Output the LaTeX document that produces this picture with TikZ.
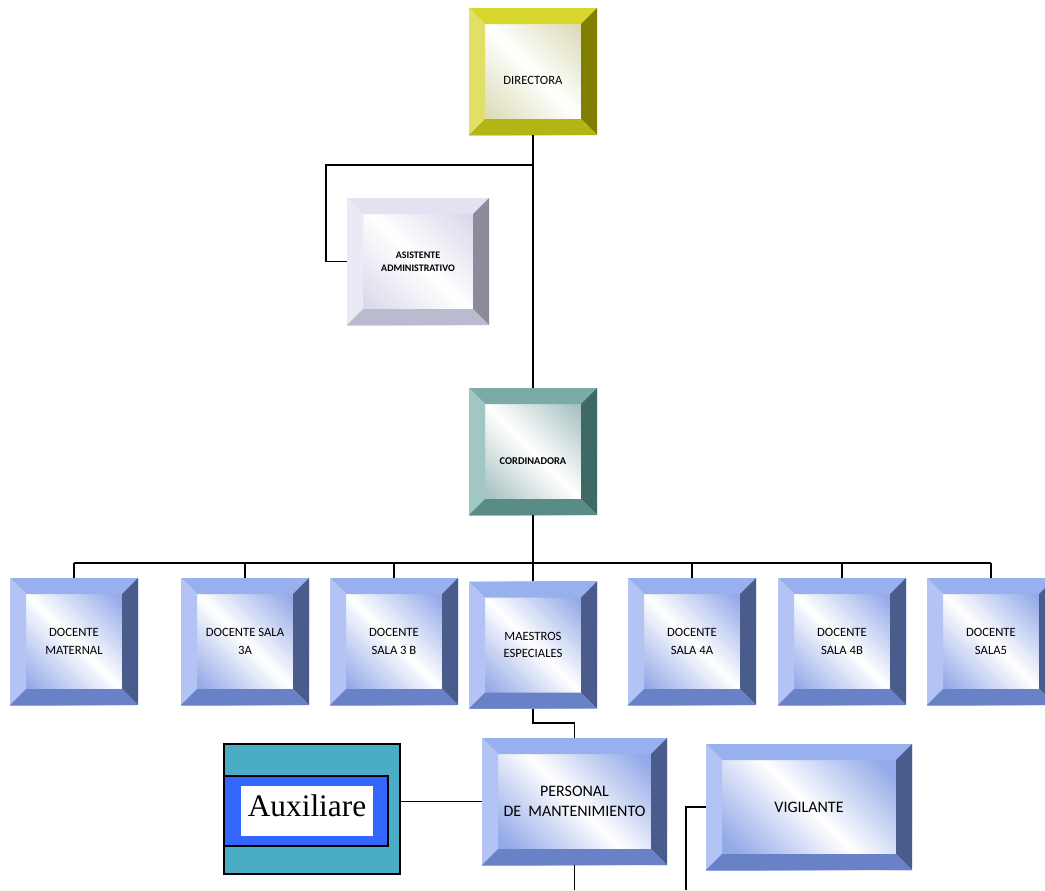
\documentclass[tikz,border=0pt]{standalone}
\usepackage{fontspec}
\setmainfont{Carlito}
\newfontfamily\auxfont{Liberation Serif}
\usetikzlibrary{calc}

\definecolor{ylT}{HTML}{D6D62C}\definecolor{ylL}{HTML}{E0E068}
\definecolor{ylR}{HTML}{807F00}\definecolor{ylB}{HTML}{B4B414}\definecolor{ylF}{HTML}{DCDCB8}
\definecolor{lvT}{HTML}{E2E2F2}\definecolor{lvL}{HTML}{EAEAF6}
\definecolor{lvR}{HTML}{8B8B9B}\definecolor{lvB}{HTML}{BBBBCF}\definecolor{lvF}{HTML}{DADAEC}
\definecolor{tlT}{HTML}{7BABA7}\definecolor{tlL}{HTML}{A0C7C3}
\definecolor{tlR}{HTML}{3F6965}\definecolor{tlB}{HTML}{5A8C87}\definecolor{tlF}{HTML}{A8C2C2}
\definecolor{blT}{HTML}{98B0EE}\definecolor{blL}{HTML}{B3C4F4}
\definecolor{blR}{HTML}{4A5C8C}\definecolor{blB}{HTML}{6881C7}\definecolor{blF}{HTML}{94AAE8}
\definecolor{auxteal}{HTML}{4BACC6}\definecolor{auxblue}{HTML}{3366FF}

\tikzset{
  bevel/.style n args={5}{inner sep=0pt, align=center, minimum width=96pt, minimum height=95.25pt,
    left color=#5, right color=#5, middle color=white, shading angle=-45,
    path picture={
      \path (path picture bounding box.north west) coordinate (p1)
            (path picture bounding box.north east) coordinate (p2)
            (path picture bounding box.south east) coordinate (p3)
            (path picture bounding box.south west) coordinate (p4);
      \fill[#1] (p1) -- (p2) -- ++(-12pt,-12pt) -- ($(p1)+(12pt,-12pt)$) -- cycle;
      \fill[#2] (p1) -- (p4) -- ++(12pt,12pt) -- ($(p1)+(12pt,-12pt)$) -- cycle;
      \fill[#3] (p2) -- (p3) -- ++(-12pt,12pt) -- ($(p2)+(-12pt,-12pt)$) -- cycle;
      \fill[#4] (p4) -- (p3) -- ++(-12pt,12pt) -- ($(p4)+(12pt,12pt)$) -- cycle;
    }},
  yellowbox/.style={bevel={ylT}{ylL}{ylR}{ylB}{ylF}},
  lilacbox/.style={bevel={lvT}{lvL}{lvR}{lvB}{lvF}},
  tealbox/.style={bevel={tlT}{tlL}{tlR}{tlB}{tlF}},
  bluebox/.style={bevel={blT}{blL}{blR}{blB}{blF}, font=\fontsize{9.5}{13}\selectfont},
  link/.style={line width=1.4pt},
}

\begin{document}
\begin{tikzpicture}[x=0.75pt, y=-0.75pt]
\useasboundingbox (0,0) rectangle (1045,890);
\node[yellowbox, text height=20pt, font=\fontsize{9.5}{12}\selectfont] (dir) at (533,71.5) {DIRECTORA};
\node[lilacbox, minimum width=106.5pt, font=\fontsize{7.5}{9.5}\selectfont\bfseries] (asist) at (418,261.5)
  {ASISTENTE\\ADMINISTRATIVO};
\node[tealbox, text height=20pt, font=\fontsize{7.8}{10}\selectfont\bfseries] (cord) at (533,451.5) {CORDINADORA};
\foreach \n/\x/\y/\txt in {m1/74/641.5/{DOCENTE\\MATERNAL}, m2/245/641.5/{DOCENTE SALA\\3A},
    m3/394/641.5/{DOCENTE\\SALA 3 B}, m4/533/645/{MAESTROS\\ESPECIALES}, m5/692/641.5/{DOCENTE\\SALA 4A},
    m6/842/641.5/{DOCENTE\\SALA 4B}, m7/991/641.5/{DOCENTE\\SALA5}}
  \node[bluebox] (\n) at (\x,\y) {\txt};
\node[bluebox, minimum width=138.75pt, font=\fontsize{12}{15.5}\selectfont] (pers) at (574.5,801.5)
  {PERSONAL\\DE~ MANTENIMIENTO};
\node[bluebox, minimum width=154.5pt, minimum height=94.5pt, font=\fontsize{12}{15}\selectfont] (vig) at (809,807)
  {VIGILANTE};
\node[draw=black, line width=1pt, fill=auxteal, minimum width=132pt, minimum height=97.5pt] (aux) at (312,809) {};
\node[draw=black, line width=1.2pt, fill=auxblue, minimum width=123pt, minimum height=52.5pt] (auxb) at (306,811) {};
\node[fill=white, inner sep=0pt, minimum width=99pt, minimum height=37.5pt, text depth=8pt,
  font=\auxfont\fontsize{23.5}{26}\selectfont] (auxt) at (307,811) {Auxiliare};

\coordinate (j1) at (533,165);
\coordinate (bus) at (533,563);
\coordinate (vend) at (686,890);
\draw[link] (dir) -- (cord);
\draw[link] (j1) -| ($(asist.west)+(-21,0)$) -- (asist.west);
\draw[link] (cord.south) -- (bus);
\draw[link] (m1.north |- bus) -- (m7.north |- bus);
\foreach \n in {m1,m2,m3,m4,m5,m6,m7}
  \draw[link] (\n.north) -- (\n.north |- bus);
\draw[link] (m4.south) -- ++(0,14) -| (pers.north);
\draw[link] (aux.east |- pers.west) -- (pers.west);
\draw[link] (pers.south) -- (pers.south |- vend);
\draw[link] (vend) |- (vig.west);
\end{tikzpicture}
\end{document}
